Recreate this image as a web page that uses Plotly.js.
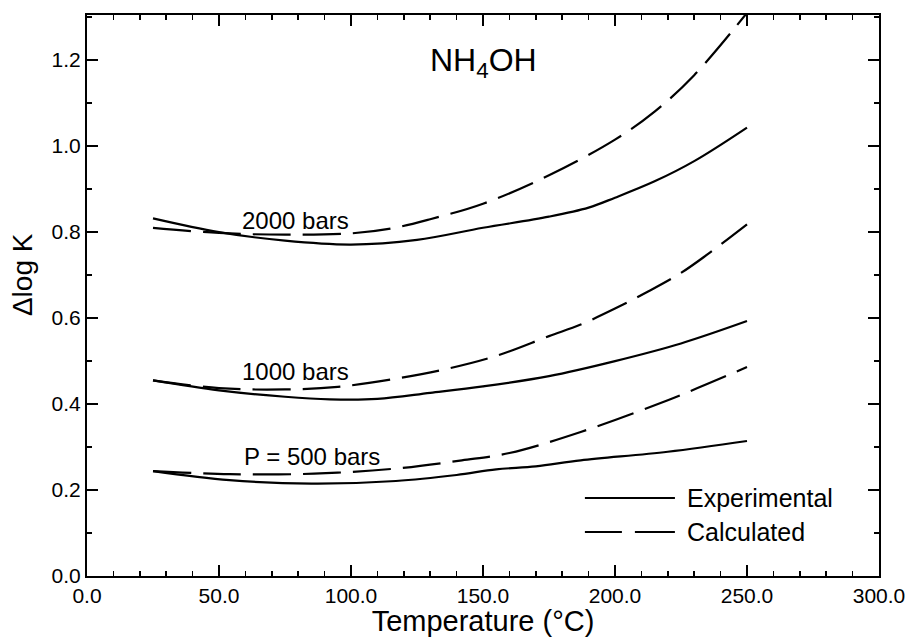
<!DOCTYPE html>
<html>
<head>
<meta charset="utf-8">
<script src="https://cdn.plot.ly/plotly-3.0.1.min.js"></script>
<style>
  html, body { margin: 0; padding: 0; background: #fff; }
  #chart { width: 911px; height: 637px; }
</style>
</head>
<body>
<div id="chart"></div>
<script>
// Δlog K of NH4OH versus temperature at three pressures
const t2000Exp = [25, 50, 75, 100, 125, 150, 175, 190, 200, 215, 230, 250];
const k2000Exp = [0.832, 0.800, 0.780, 0.771, 0.782, 0.810, 0.836, 0.857, 0.880, 0.918, 0.965, 1.043];

const t2000Calc = [25, 50, 75, 100, 115, 130, 150, 175, 200, 215, 230, 250];
const k2000Calc = [0.810, 0.798, 0.794, 0.797, 0.808, 0.830, 0.866, 0.932, 1.015, 1.080, 1.165, 1.310];

const t1000Exp = [25, 50, 75, 92, 110, 130, 150, 175, 200, 225, 250];
const k1000Exp = [0.455, 0.432, 0.417, 0.411, 0.412, 0.426, 0.441, 0.465, 0.500, 0.541, 0.593];

const t1000Calc = [25, 50, 75, 95, 117, 135, 155, 175, 187, 200, 212, 225, 235, 250];
const k1000Calc = [0.455, 0.437, 0.434, 0.440, 0.459, 0.480, 0.512, 0.558, 0.585, 0.622, 0.660, 0.705, 0.748, 0.818];

const t500Exp = [25, 54, 85, 117, 140, 155, 170, 187, 220, 250];
const k500Exp = [0.244, 0.223, 0.215, 0.221, 0.235, 0.248, 0.255, 0.269, 0.289, 0.314];

const t500Calc = [25, 54, 86, 117, 142, 160, 187, 220, 250];
const k500Calc = [0.244, 0.237, 0.238, 0.250, 0.269, 0.286, 0.335, 0.409, 0.486];

const pressureLabels = ['2000 bars', '1000 bars', 'P = 500 bars'];
const legendLabels = ['Experimental', 'Calculated'];

const FONT = 'Liberation Sans, Arial, Helvetica, sans-serif';
const DASH = '38px,12px';

function curve(x, y, dashed) {
  return {
    x: x, y: y, type: 'scatter', mode: 'lines',
    line: { color: '#000', width: 2.2, shape: 'spline', smoothing: 1, dash: dashed ? DASH : 'solid' },
    hoverinfo: 'skip', showlegend: false, cliponaxis: true
  };
}

const traces = [
  curve(t2000Exp, k2000Exp, false),
  curve(t2000Calc, k2000Calc, true),
  curve(t1000Exp, k1000Exp, false),
  curve(t1000Calc, k1000Calc, true),
  curve(t500Exp, k500Exp, false),
  curve(t500Calc, k500Calc, true)
];

const axisCommon = {
  showline: true, linecolor: '#000', linewidth: 2, mirror: 'ticks',
  ticks: 'inside', ticklen: 11, tickwidth: 1.5, tickcolor: '#000',
  showgrid: false, zeroline: false,
  tickfont: { family: FONT, size: 21, color: '#000' },
  tickformat: '.1f'
};

const layout = {
  width: 911, height: 637,
  margin: { l: 87, r: 32, t: 15, b: 61 },
  paper_bgcolor: '#fff', plot_bgcolor: '#fff',
  font: { family: FONT, color: '#000' },
  showlegend: false,
  xaxis: Object.assign({}, axisCommon, {
    range: [0, 300], tick0: 0, dtick: 50,
    minor: { dtick: 10, ticks: 'inside', ticklen: 5, tickwidth: 1.5, tickcolor: '#000' },
    title: { text: 'Temperature (°C)', font: { family: FONT, size: 29, color: '#000' }, standoff: 6 }
  }),
  yaxis: Object.assign({}, axisCommon, {
    range: [0, 1.305], tick0: 0, dtick: 0.2,
    minor: { dtick: 0.1, ticks: 'inside', ticklen: 5, tickwidth: 1.5, tickcolor: '#000' }
  }),
  annotations: [
    { x: -0.082, y: 0.5365, xref: 'paper', yref: 'paper', xanchor: 'center', yanchor: 'middle',
      text: 'Δlog K', textangle: -90, showarrow: false,
      font: { family: FONT, size: 28, color: '#000' } },
    { x: 150, y: 1.195, xref: 'x', yref: 'y', text: 'NH<sub>4</sub>OH', showarrow: false,
      font: { family: FONT, size: 32, color: '#000' } },
    { x: 79, y: 0.828, xref: 'x', yref: 'y', text: pressureLabels[0], showarrow: false,
      font: { family: FONT, size: 24, color: '#000' } },
    { x: 79, y: 0.475, xref: 'x', yref: 'y', text: pressureLabels[1], showarrow: false,
      font: { family: FONT, size: 24, color: '#000' } },
    { x: 85.3, y: 0.279, xref: 'x', yref: 'y', text: pressureLabels[2], showarrow: false,
      font: { family: FONT, size: 24, color: '#000' } },
    { x: 226.5, y: 0.1815, xref: 'x', yref: 'y', xanchor: 'left', text: legendLabels[0], showarrow: false,
      font: { family: FONT, size: 25, color: '#000' } },
    { x: 226.5, y: 0.102, xref: 'x', yref: 'y', xanchor: 'left', text: legendLabels[1], showarrow: false,
      font: { family: FONT, size: 25, color: '#000' } }
  ],
  shapes: [
    { type: 'line', xref: 'x', yref: 'y', x0: 188.6, x1: 222.7, y0: 0.1815, y1: 0.1815,
      line: { color: '#000', width: 2 } },
    { type: 'line', xref: 'x', yref: 'y', x0: 188.6, x1: 222.7, y0: 0.1024, y1: 0.1024,
      line: { color: '#000', width: 2, dash: '37px,13px,40px' } }
  ]
};

Plotly.newPlot('chart', traces, layout, { displayModeBar: false, staticPlot: true });
</script>
</body>
</html>
